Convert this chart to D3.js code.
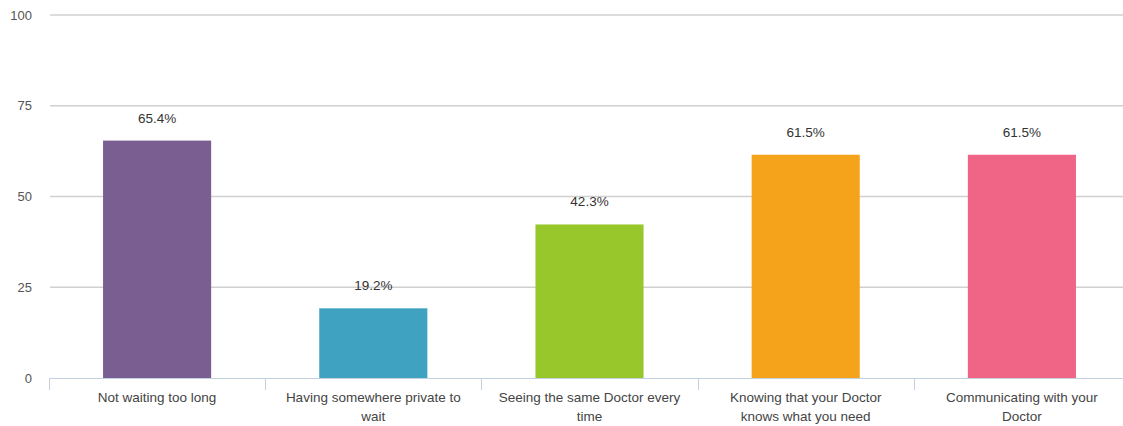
<!DOCTYPE html>
<html><head><meta charset="utf-8">
<script src="https://cdn.jsdelivr.net/npm/d3@7"></script>
<style>body{margin:0;background:#fff}svg{display:block;font-family:"Liberation Sans",Arial,sans-serif}</style>
</head><body><svg id="c" width="1123" height="426"></svg>
<script>
const categories = ["Not waiting too long","Having somewhere private to wait","Seeing the same Doctor every time","Knowing that your Doctor knows what you need","Communicating with your Doctor"];
const values = [65.4, 19.2, 42.3, 61.5, 61.5];
const colors = ["#7B5E91","#3FA2C1","#97C72A","#F5A31A","#F06485"];
const yTicks = [0, 25, 50, 75, 100];

const svg = d3.select("#c");
const x = d3.scaleBand().domain(categories).range([49, 1130]).paddingInner(0.5).paddingOuter(0.25);
const y = d3.scaleLinear().domain([0, 100]).range([378, 15]);

// gridlines
svg.append("g").selectAll("line").data(yTicks.filter(d=>d>0)).join("line")
  .attr("x1", 50).attr("x2", 1123).attr("y1", d=>y(d)).attr("y2", d=>y(d))
  .attr("stroke", "#d0d0d0").attr("stroke-width", 1.5);

// y labels
svg.append("g").selectAll("text").data(yTicks).join("text")
  .attr("x", 32).attr("y", d=>y(d)+4.5).attr("text-anchor","end")
  .attr("font-size", 13).attr("fill", "#555").text(d=>d);

// bars
svg.append("g").selectAll("rect").data(values).join("rect")
  .attr("x", (d,i)=>x(categories[i])).attr("width", x.bandwidth())
  .attr("y", d=>y(d)).attr("height", d=>y(0)-y(d))
  .attr("fill", (d,i)=>colors[i]);

// value labels
svg.append("g").selectAll("text").data(values).join("text")
  .attr("x", (d,i)=>x(categories[i])+x.bandwidth()/2).attr("y", d=>y(d)-18)
  .attr("text-anchor","middle").attr("font-size", 13.5).attr("fill", "#333")
  .text(d=>d.toFixed(1)+"%");

// x axis
const step = x.step();
const xa = svg.append("g");
xa.append("line").attr("x1", 50).attr("x2", 1123).attr("y1", 378.5).attr("y2", 378.5)
  .attr("stroke", "#c3d0de").attr("stroke-width", 1);
const bounds = categories.map((c,i)=>x(c) - (step - x.bandwidth())/2);
xa.selectAll("line.t").data(bounds).join("line").attr("class","t")
  .attr("x1", d=>Math.round(d)+0.5).attr("x2", d=>Math.round(d)+0.5).attr("y1", 378).attr("y2", 390)
  .attr("stroke", "#c3d0de");

function wrap(text, width){
  const words = text.split(" "); const lines=[]; let cur="";
  const ctx = document.createElement("canvas").getContext("2d");
  ctx.font = '13.5px "Liberation Sans", Arial';
  words.forEach(w=>{const t = cur? cur+" "+w : w; if(ctx.measureText(t).width>width && cur){lines.push(cur); cur=w;} else cur=t;});
  lines.push(cur); return lines;
}
categories.forEach((c,i)=>{
  const lines = wrap(c, 192);
  const t = xa.append("text").attr("x", x(c)+x.bandwidth()/2).attr("y", 402)
    .attr("text-anchor","middle").attr("font-size", 13.5).attr("fill","#444");
  lines.forEach((l,j)=>t.append("tspan").attr("x", x(c)+x.bandwidth()/2).attr("dy", j?19:0).text(l));
});
</script></body></html>
